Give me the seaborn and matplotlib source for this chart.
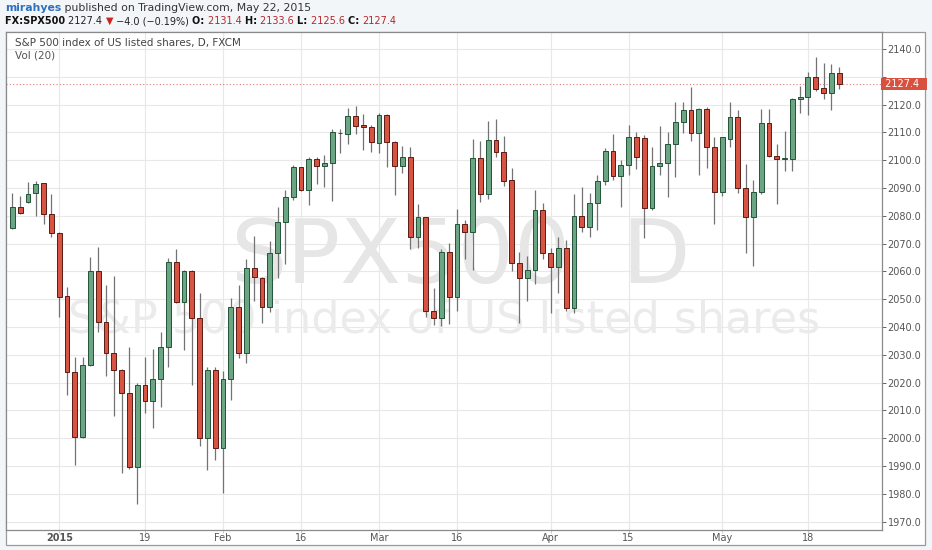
import matplotlib
matplotlib.use('Agg')
import matplotlib.pyplot as plt
import matplotlib.transforms as mtransforms
from matplotlib.patches import Rectangle
import numpy as np
import pandas as pd
import seaborn as sns

# daily candles, FXCM SPX500, 23 Dec 2014 - 22 May 2015
opens = [2075.7, 2083.0, 2084.8, 2088.1, 2091.7, 2080.5, 2073.9, 2051.1, 2023.9, 2000.5,
         2026.2, 2060.1, 2041.9, 2030.5, 2024.5, 2016.1, 1989.5, 2019.1, 2013.5, 2021.2,
         2032.7, 2063.5, 2049.1, 2060.1, 2043.4, 2000.2, 2024.5, 1996.6, 2021.2, 2047.1,
         2030.5, 2061.3, 2057.7, 2047.3, 2066.7, 2077.9, 2086.6, 2097.4, 2089.3, 2100.4,
         2098.0, 2098.9, 2109.6, 2109.4, 2115.9, 2112.7, 2111.8, 2106.1, 2116.3, 2106.7,
         2097.9, 2101.3, 2072.5, 2079.4, 2045.9, 2043.4, 2066.8, 2050.7, 2076.9, 2074.0,
         2100.7, 2087.8, 2107.3, 2102.8, 2092.9, 2062.9, 2057.5, 2060.5, 2082.1, 2066.5,
         2061.7, 2068.5, 2046.7, 2080.0, 2075.8, 2084.5, 2092.6, 2103.4, 2094.3, 2098.3,
         2108.2, 2107.9, 2082.7, 2097.9, 2098.9, 2105.7, 2113.6, 2118.1, 2109.7, 2118.3,
         2104.6, 2088.4, 2107.6, 2115.7, 2089.9, 2079.7, 2088.4, 2113.3, 2101.5, 2100.3,
         2100.4, 2121.9, 2122.6, 2130.0, 2125.8, 2124.3, 2131.4]
highs = [2088.3, 2087.1, 2092.3, 2092.6, 2091.9, 2087.8, 2074.0, 2054.3, 2029.3, 2029.3,
         2065.3, 2068.6, 2055.1, 2058.3, 2025.0, 2032.9, 2020.0, 2029.3, 2032.1, 2038.3,
         2065.0, 2068.1, 2060.5, 2060.5, 2052.4, 2025.7, 2025.7, 2024.3, 2050.3, 2055.1,
         2064.5, 2072.7, 2057.9, 2071.0, 2083.0, 2089.3, 2098.3, 2097.6, 2101.3, 2101.3,
         2101.9, 2111.2, 2111.1, 2118.7, 2119.6, 2116.6, 2112.7, 2117.1, 2116.5, 2106.8,
         2105.1, 2104.6, 2084.2, 2079.5, 2053.9, 2067.9, 2070.3, 2082.4, 2078.5, 2107.5,
         2106.9, 2114.1, 2114.8, 2108.7, 2097.1, 2066.9, 2065.7, 2089.3, 2084.5, 2068.3,
         2072.5, 2071.3, 2087.8, 2090.5, 2088.1, 2094.7, 2104.3, 2109.3, 2100.1, 2112.7,
         2110.3, 2109.1, 2104.9, 2112.3, 2110.3, 2120.8, 2121.1, 2126.2, 2118.7, 2119.0,
         2108.2, 2108.5, 2121.1, 2118.1, 2098.5, 2092.9, 2118.3, 2118.4, 2105.7, 2110.5,
         2122.2, 2126.5, 2131.6, 2137.2, 2134.8, 2134.6, 2133.6]
lows = [2075.3, 2080.8, 2084.5, 2080.0, 2076.9, 2072.3, 2043.7, 2015.4, 1990.4, 2000.0,
        2026.0, 2038.3, 2022.4, 2008.1, 1987.4, 1989.0, 1976.5, 2009.2, 2003.8, 2011.3,
        2025.7, 2048.8, 2031.7, 2019.1, 1997.3, 1988.6, 1992.2, 1980.2, 2013.7, 2028.7,
        2026.9, 2049.5, 2041.3, 2045.5, 2057.5, 2062.7, 2085.7, 2089.0, 2083.9, 2091.4,
        2090.2, 2085.4, 2102.7, 2105.8, 2109.3, 2103.7, 2103.1, 2102.5, 2097.7, 2087.5,
        2095.5, 2068.0, 2068.3, 2043.5, 2040.7, 2040.5, 2041.1, 2045.9, 2064.3, 2060.5,
        2085.1, 2085.9, 2101.3, 2090.8, 2060.1, 2041.3, 2049.4, 2055.5, 2064.3, 2044.9,
        2052.1, 2045.9, 2045.0, 2074.0, 2072.5, 2074.9, 2091.1, 2092.9, 2083.3, 2094.7,
        2096.7, 2071.9, 2082.0, 2094.7, 2086.6, 2094.1, 2109.7, 2106.9, 2094.7, 2097.1,
        2077.0, 2087.2, 2104.6, 2088.1, 2066.5, 2062.1, 2088.0, 2101.3, 2084.2, 2096.0,
        2096.2, 2117.1, 2116.3, 2124.9, 2121.9, 2118.1, 2125.6]
closes = [2083.0, 2081.1, 2087.8, 2091.4, 2080.5, 2073.9, 2050.9, 2023.9, 2000.5, 2026.2,
          2060.1, 2041.9, 2030.5, 2024.5, 2016.1, 1989.5, 2019.1, 2013.5, 2021.2, 2032.7,
          2063.5, 2049.1, 2060.1, 2043.4, 2000.2, 2024.5, 1996.6, 2021.2, 2047.1, 2030.5,
          2061.3, 2057.9, 2047.3, 2066.7, 2077.9, 2086.6, 2097.4, 2089.3, 2100.4, 2098.0,
          2098.9, 2110.0, 2109.8, 2115.9, 2112.4, 2111.8, 2106.7, 2116.3, 2106.7, 2097.9,
          2101.3, 2072.5, 2079.4, 2045.9, 2043.4, 2066.8, 2050.7, 2076.9, 2074.0, 2100.7,
          2087.8, 2107.3, 2102.8, 2092.6, 2062.9, 2057.5, 2060.5, 2082.1, 2066.5, 2061.7,
          2068.5, 2046.7, 2080.0, 2075.8, 2084.5, 2092.6, 2103.4, 2094.3, 2098.3, 2108.2,
          2101.3, 2082.7, 2097.9, 2098.9, 2105.7, 2113.6, 2118.1, 2109.7, 2118.3, 2104.6,
          2088.4, 2108.2, 2115.7, 2089.9, 2079.7, 2088.4, 2113.3, 2101.5, 2100.3, 2100.5,
          2122.0, 2122.8, 2130.0, 2125.6, 2124.3, 2131.5, 2127.4]

tick_pos = [6, 17, 27, 37, 47, 57, 69, 79, 91, 102]
tick_labels = ['2015', '19', 'Feb', '16', 'Mar', '16', 'Apr', '15', 'May', '18']
price_ticks = list(range(1970, 2141, 10))
last_price = 2127.4

df = pd.DataFrame({'open': opens, 'high': highs, 'low': lows, 'close': closes})
df['idx'] = np.arange(len(df))
df['up'] = df['close'] >= df['open']
df['bottom'] = df[['open', 'close']].min(axis=1)
df['body'] = (df['close'] - df['open']).abs().clip(lower=0.35)

sns.set_theme(style='white')
plt.rcParams['font.family'] = ['DejaVu Sans']

W, H = 932, 550
fig = plt.figure(figsize=(W / 100, H / 100), dpi=100, facecolor='#f3f6f8')

def fx(px):
    return px / W

def fy(py):
    return 1 - py / H

# white chart panel with its outer frame (drawn under the axes)
fig.patches.append(Rectangle((fx(6), fy(545)), fx(925) - fx(6), fy(32) - fy(545),
                             transform=fig.transFigure, facecolor='white',
                             edgecolor='#9a9a9a', lw=0.9, zorder=-10))

ax = fig.add_axes([fx(6), fy(530), fx(882) - fx(6), fy(32) - fy(530)])
ax.set_facecolor('white')

# wicks
ax.vlines(df['idx'], df['low'], df['high'], color='#737375', lw=0.9, zorder=2)
# bodies
up = df[df['up']]
dn = df[~df['up']]
ax.bar(up['idx'], up['body'], bottom=up['bottom'], width=0.62, color='#6ba583',
       edgecolor='#225437', linewidth=0.7, zorder=3)
ax.bar(dn['idx'], dn['body'], bottom=dn['bottom'], width=0.62, color='#d75442',
       edgecolor='#5b1a13', linewidth=0.7, zorder=3)

ax.set_xlim(-0.83, 111.5)
ax.set_ylim(1967.0, 2146.1)

# grid
ax.set_yticks(price_ticks)
ax.set_xticks(tick_pos)
ax.grid(True, color='#e8e8e8', lw=0.8, zorder=0)
ax.set_axisbelow(True)

ax.yaxis.tick_right()
ax.set_yticklabels(['%.1f' % v if v != 2130 else '' for v in price_ticks])
ax.set_xticklabels(tick_labels)
ax.tick_params(axis='y', which='both', right=True, length=3, width=0.7, color='#666666',
               labelsize=7, labelcolor='#555555', pad=1)
ax.tick_params(axis='x', which='both', bottom=True, length=2, width=0.7, color='#cccccc',
               labelsize=7, labelcolor='#555555', pad=0.5)
ax.get_xticklabels()[0].set_fontweight('bold')
for s in ax.spines.values():
    s.set_color('#8a8a8a')
    s.set_linewidth(0.9)

# last price line and tag
ax.axhline(last_price, color='#e07a7a', ls=(0, (1, 2)), lw=0.8, zorder=1)
tr = mtransforms.blended_transform_factory(ax.transAxes, ax.transData)
ax.text(1.0, last_price, ' %.1f  ' % last_price, transform=tr, ha='left', va='center',
        color='white', fontsize=7,
        bbox=dict(boxstyle='square,pad=0.15', fc='#d9503f', ec='none'), zorder=5,
        clip_on=False)

# watermark
ax.text(0.45, 2064.5, 'SPX500', transform=tr, ha='center', va='center',
        fontsize=64, color='#e6e6e6', zorder=1)
ax.text(0.741, 2064.5, 'D', transform=tr, ha='center', va='center',
        fontsize=64, color='#e6e6e6', zorder=1)
ax.text(0.5, 2042.5, 'S&P 500 index of US listed shares', transform=tr, ha='center',
        va='center', fontsize=32, color='#ebebeb', zorder=1)

# legend texts inside the pane
fig.text(fx(15), fy(43), 'S&P 500 index of US listed shares, D, FXCM', fontsize=7.5,
         color='#444444', va='center')
fig.text(fx(15), fy(55), 'Vol (20)', fontsize=7.5, color='#555555', va='center')

# header lines, written piece by piece
renderer = fig.canvas.get_renderer()

def header(pieces, x0, y0, size):
    x = fx(x0)
    for s, col, wt in pieces:
        t = fig.text(x, fy(y0), s, fontsize=size, color=col, fontweight=wt, va='center')
        bb = t.get_window_extent(renderer=renderer)
        x += bb.width / W

header([('mirahyes', '#2e6fc0', 'bold'),
        (' published on TradingView.com, May 22, 2015', '#333333', 'normal')], 5, 8, 7.8)
header([('FX:SPX500 ', '#111111', 'bold'), ('2127.4 ', '#222222', 'normal'),
        ('\u25bc', '#cc2222', 'normal'), (' \u22124.0 (\u22120.19%) ', '#222222', 'normal'),
        ('O: ', '#111111', 'bold'), ('2131.4 ', '#b8262a', 'normal'),
        ('H: ', '#111111', 'bold'), ('2133.6 ', '#b8262a', 'normal'),
        ('L: ', '#111111', 'bold'), ('2125.6 ', '#b8262a', 'normal'),
        ('C: ', '#111111', 'bold'), ('2127.4', '#b8262a', 'normal')], 5, 21, 7.0)

fig.savefig('out.png', dpi=100, facecolor=fig.get_facecolor())
